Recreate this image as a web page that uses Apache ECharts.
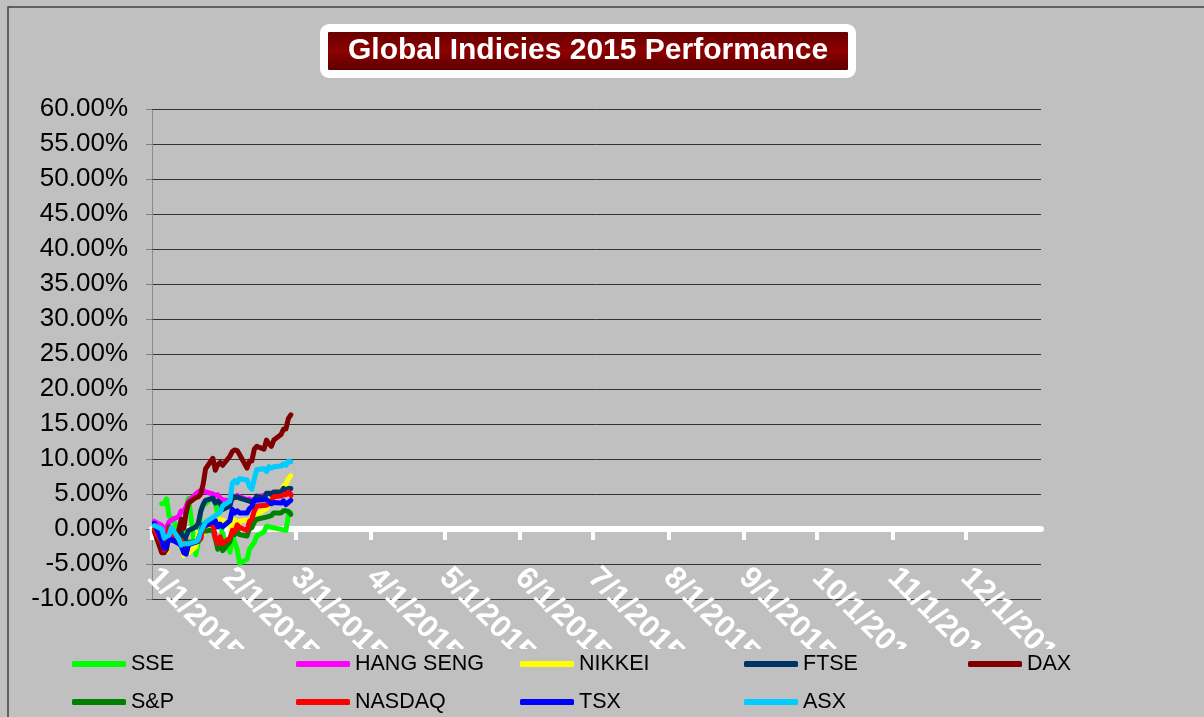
<!DOCTYPE html>
<html lang="en">
<head>
    <meta charset="UTF-8">
    <title>Global Indicies 2015 Performance</title>
    <style>
        html,body{
            width: 100%;
            height: 100%;
            margin: 0;
            padding: 0;
            background: #C0C0C0;
        }
    </style>
</head>
<body>
<div id="main" style="width: 1204px;height:717px;"></div>

<script src="https://cdn.jsdelivr.net/npm/echarts@6/dist/echarts.min.js"></script>
<script>
    // trading days, Jan 2 - Feb 27 2015
    var dates = ['2015-01-02','2015-01-05','2015-01-06','2015-01-07','2015-01-08','2015-01-09',
        '2015-01-12','2015-01-13','2015-01-14','2015-01-15','2015-01-16',
        '2015-01-19','2015-01-20','2015-01-21','2015-01-22','2015-01-23',
        '2015-01-26','2015-01-27','2015-01-28','2015-01-29','2015-01-30',
        '2015-02-02','2015-02-03','2015-02-04','2015-02-05','2015-02-06',
        '2015-02-09','2015-02-10','2015-02-11','2015-02-12','2015-02-13',
        '2015-02-16','2015-02-17','2015-02-18','2015-02-19','2015-02-20',
        '2015-02-23','2015-02-24','2015-02-25','2015-02-26','2015-02-27'];

    // % change since start of year (null = market closed)
    var sse = [null,3.6,3.6,4.3,1.8,1.6, -0.2,-0.3,-0.4,3.1,4.4, -3.7,-1.9,2.7,3.4,3.6,
        4.6,3.7,2.2,0.9,-0.8, -3.3,-0.9,-1.9,-3.0,-4.9, -4.3,-2.9,-2.4,-1.9,-1.0,
        -0.4,0.4,null,null,null, null,null,-0.2,2.0,2.3];
    var hangSeng = [1.1,0.5,-0.5,0.3,1.0,1.3, 1.8,2.6,2.4,3.2,4.0, 5.0,5.3,5.5,5.5,5.3,
        5.0,4.8,4.9,4.4,4.2, 4.0,4.3,4.6,4.8,4.6, 4.2,4.3,4.0,4.2,4.6,
        4.8,5.0,5.1,null,null, 5.2,4.9,5.0,5.3,5.0];
    var nikkei = [null,-0.2,-3.3,-3.2,-1.6,-1.5, null,-2.1,-3.8,-2.0,-3.4, -2.5,-0.5,-1.0,-0.7,0.3,
        0.1,1.8,2.0,0.9,1.3, 0.6,-0.7,1.3,0.3,1.1, 1.3,1.2,null,2.0,2.1,
        2.7,2.9,3.5,4.2,4.9, 5.0,6.2,6.4,7.2,7.6];
    var ftse = [-0.3,-2.3,-3.0,-2.2,0.1,-1.0, -1.0,-0.4,-2.7,-1.0,-0.2, 0.3,0.8,2.5,3.5,4.1,
        4.4,3.7,4.0,3.7,2.8, 3.3,4.7,4.5,4.6,4.4, 4.1,4.0,3.8,4.0,4.7,
        4.4,5.1,5.1,4.9,5.3, 5.3,5.8,5.6,5.8,5.8];
    var dax = [-0.4,-3.4,-3.4,-2.9,0.3,-1.6, -0.2,1.4,0.1,2.3,3.7, 4.5,4.6,5.0,6.4,8.6,
        10.1,8.4,9.2,9.5,9.1, 10.4,11.1,11.3,11.2,10.6, 8.7,9.7,9.7,11.4,11.8,
        11.4,12.7,12.2,11.8,12.7, 13.5,14.3,14.3,15.8,16.3];
    var sp = [0.0,-1.9,-2.7,-1.6,0.2,-0.7, -1.5,-1.7,-2.3,-3.2,-1.9, null,-1.8,-1.3,0.2,-0.3,
        -0.1,-1.4,-2.9,-1.8,-3.1, -1.8,-0.4,-0.8,-0.3,-0.8, -1.0,0.0,0.2,1.0,1.4,
        null,1.7,1.8,1.9,2.3, 2.3,2.6,2.6,2.5,2.1];
    var nasdaq = [-0.2,-1.8,-3.0,-1.8,0.0,-0.7, -1.5,-1.6,-2.0,-3.5,-2.1, null,-1.7,-1.4,0.3,0.5,
        0.8,-1.2,-2.1,-1.1,-2.1, -1.3,-0.2,-0.4,0.6,0.2, -0.2,1.1,1.4,2.6,3.3,
        null,3.4,3.6,4.0,4.6, 4.7,4.9,4.9,5.3,4.8];
    var tsx = [0.8,-1.6,-2.8,-2.6,-1.3,-1.5, -2.1,-2.4,-3.4,-3.6,-2.2, -1.9,-1.5,-0.5,0.6,0.5,
        1.0,1.2,0.3,0.7,0.3, 1.2,2.8,2.3,2.6,2.3, 2.3,2.9,3.2,4.2,4.1,
        null,4.2,3.9,3.6,3.8, 3.7,4.0,3.5,3.8,4.1];
    var asx = [0.5,0.0,-1.3,-1.1,-0.9,0.2, -1.4,-2.3,-2.1,-2.1,-2.1, -1.8,-1.5,-0.4,0.3,1.0,
        null,1.9,2.1,2.4,3.3, 4.0,6.6,6.9,6.6,7.2, 7.0,6.1,5.7,7.2,8.5,
        8.6,8.2,8.9,8.7,8.9, 9.0,9.3,9.1,9.7,9.6];

    var names = ['SSE','HANG SENG','NIKKEI','FTSE','DAX','S&P','NASDAQ','TSX','ASX'];
    var values = [sse, hangSeng, nikkei, ftse, dax, sp, nasdaq, tsx, asx];
    var colors = ['#00FF00','#FF00FF','#FFFF00','#003366','#800000','#008000','#FF0000','#0000FF','#00CCFF'];

    var font = "'Liberation Sans', Arial, sans-serif";

    var series = names.map(function (n, i) {
        return {
            name: n,
            type: 'line',
            showSymbol: false,
            connectNulls: true,
            color: colors[i],
            lineStyle: {width: 5, cap: 'round', join: 'round'},
            data: dates.map(function (d, j) { return [d, values[i][j]]; })
        };
    });

    var myChart = echarts.init(document.getElementById('main'));
    myChart.setOption({
        backgroundColor: '#C0C0C0',
        animation: false,
        title: {
            text: 'Global Indicies 2015 Performance',
            left: 324,
            top: 28,
            padding: [8, 24],
            borderColor: '#fff',
            borderWidth: 8,
            borderRadius: 5,
            backgroundColor: new echarts.graphic.LinearGradient(0, 0, 0, 1, [
                {offset: 0, color: '#5a0000'},
                {offset: 0.5, color: '#8c0000'},
                {offset: 1, color: '#4a0000'}
            ]),
            textStyle: {color: '#fff', fontSize: 30, fontWeight: 'bold', fontFamily: font}
        },
        legend: {
            data: names,
            left: 67,
            top: 640,
            width: 1130,
            itemWidth: 54,
            itemHeight: 6,
            itemGap: 0,
            icon: 'roundRect',
            selectedMode: false,
            z: 60,
            textStyle: {color: '#000', fontSize: 21.5, fontFamily: font, width: 165, lineHeight: 38}
        },
        graphic: [
            // Excel clips the axis labels at the legend area
            {type: 'rect', z: 50, shape: {x: 9, y: 649, width: 1200, height: 80}, style: {fill: '#C0C0C0'}},
            {type: 'rect', z: 70, shape: {x: 8, y: 7, width: 1300, height: 800},
                style: {fill: 'none', stroke: '#404040', lineWidth: 1.5}}
        ],
        grid: {left: 152, right: 163, top: 109, bottom: 118, containLabel: false, outerBoundsMode: 'none'},
        xAxis: {
            type: 'time',
            min: '2015-01-01',
            max: '2016-01-01',
            splitNumber: 12,
            axisLine: {onZero: true, lineStyle: {color: '#fff', width: 6}},
            axisTick: {show: true, length: 11, lineStyle: {color: '#fff', width: 4}},
            splitLine: {show: false},
            axisLabel: {
                color: '#fff',
                fontSize: 31,
                fontWeight: 'bold',
                fontFamily: font,
                rotate: -45,
                margin: -26,
                hideOverlap: false,
                showMaxLabel: false,
                formatter: function (v) {
                    var d = new Date(v);
                    return (d.getMonth() + 1) + '/' + d.getDate() + '/' + d.getFullYear();
                }
            }
        },
        yAxis: {
            type: 'value',
            min: -10,
            max: 60,
            interval: 5,
            axisLine: {show: true, lineStyle: {color: '#808080', type: 'dotted', width: 1}},
            axisTick: {show: true, length: 6, lineStyle: {color: '#808080'}},
            splitLine: {lineStyle: {color: '#333', width: 1}},
            axisLabel: {
                color: '#000',
                fontSize: 26,
                fontFamily: font,
                margin: 24,
                formatter: function (v) { return v.toFixed(2) + '%'; }
            }
        },
        series: series
    });
</script>
</body>
</html>
